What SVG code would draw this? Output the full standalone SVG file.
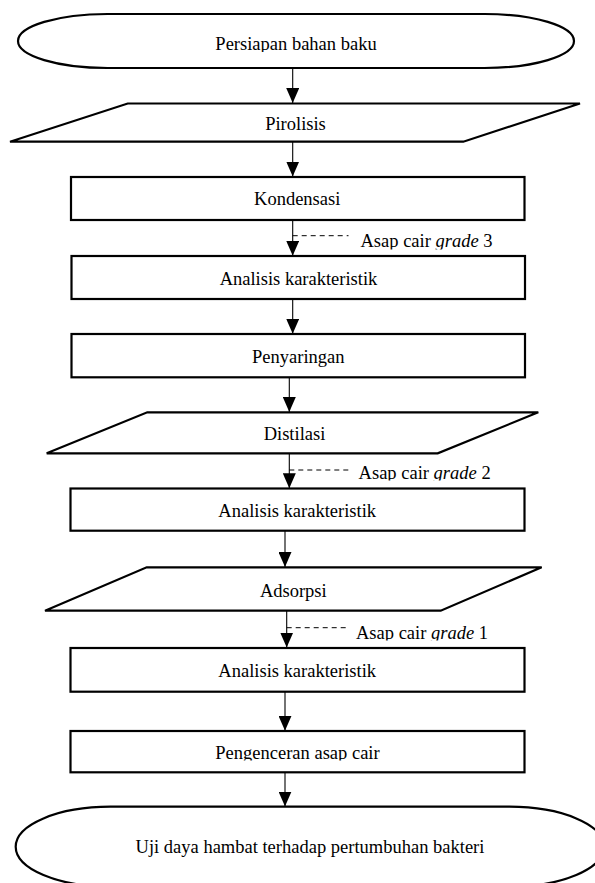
<svg xmlns="http://www.w3.org/2000/svg" width="595" height="883" viewBox="0 0 595 883">
<style>
.shape{fill:#fff;stroke:#000;stroke-width:2.2;stroke-linejoin:miter}
.conn{fill:none;stroke:#000;stroke-width:1.1}
.dash{fill:none;stroke:#000;stroke-width:1;stroke-dasharray:5 4}
text{font-family:"Liberation Serif","Times New Roman",serif;font-size:18.5px;fill:#000}
.c{text-anchor:middle}
</style>
<defs>
<marker id="ah" markerUnits="userSpaceOnUse" markerWidth="15" markerHeight="13" refX="15" refY="6.5" orient="auto">
<path d="M0,0 L15,6.5 L0,13 Z" fill="#000"/>
</marker>
<clipPath id="clip1"><rect x="0" y="20" width="595" height="32"/></clipPath>
<clipPath id="clip2"><rect x="0" y="108" width="595" height="24"/></clipPath>
<clipPath id="clip3"><rect x="300" y="225" width="295" height="24.5"/></clipPath>
<clipPath id="clip4"><rect x="300" y="458" width="295" height="22.5"/></clipPath>
<clipPath id="clip5"><rect x="300" y="615" width="295" height="25.5"/></clipPath>
<clipPath id="clip6"><rect x="0" y="736" width="595" height="24.5"/></clipPath>
</defs>

<g id="connectors">
<line class="conn" x1="292.7" y1="68" x2="292.7" y2="103" marker-end="url(#ah)"/>
<line class="conn" x1="292.7" y1="141.7" x2="292.7" y2="176.5" marker-end="url(#ah)"/>
<line class="conn" x1="292.7" y1="220" x2="292.7" y2="255.8" marker-end="url(#ah)"/>
<line class="dash" x1="292.7" y1="235.7" x2="348.5" y2="235.7"/>
<line class="conn" x1="292.7" y1="299" x2="292.7" y2="333.8" marker-end="url(#ah)"/>
<line class="conn" x1="289.3" y1="377.3" x2="289.3" y2="412" marker-end="url(#ah)"/>
<line class="conn" x1="289.3" y1="453.3" x2="289.3" y2="488.3" marker-end="url(#ah)"/>
<line class="dash" x1="289.3" y1="470" x2="350" y2="470"/>
<line class="conn" x1="285" y1="530.7" x2="285" y2="567" marker-end="url(#ah)"/>
<line class="conn" x1="286.7" y1="610.7" x2="286.7" y2="647.5" marker-end="url(#ah)"/>
<line class="dash" x1="286.7" y1="627.7" x2="349" y2="627.7"/>
<line class="conn" x1="285" y1="691.7" x2="285" y2="730.8" marker-end="url(#ah)"/>
<line class="conn" x1="285" y1="772.3" x2="285" y2="806.5" marker-end="url(#ah)"/>
</g>

<g id="persiapan">
<path class="shape" d="M107.5,14 H484.5 A89.5,27 0 0 1 484.5,68 H107.5 A89.5,27 0 0 1 107.5,14 Z"/>
<text class="c" x="296" y="50" clip-path="url(#clip1)">Persiapan bahan baku</text>
</g>

<g id="pirolisis">
<polygon class="shape" points="127.7,103.5 580,103.5 463.3,141.7 10,141.7"/>
<text class="c" x="295.5" y="130" clip-path="url(#clip2)">Pirolisis</text>
</g>

<g id="kondensasi">
<rect class="shape" x="71" y="177" width="453.5" height="43"/>
<text class="c" x="297.2" y="205">Kondensasi</text>
</g>

<g id="label-grade3">
<text x="360.5" y="247" clip-path="url(#clip3)">Asap cair <tspan font-style="italic">grade</tspan> 3</text>
</g>

<g id="analisis1">
<rect class="shape" x="71.5" y="256" width="453.5" height="43"/>
<text class="c" x="298.5" y="285">Analisis karakteristik</text>
</g>

<g id="penyaringan">
<rect class="shape" x="71.5" y="334" width="453.5" height="43.3"/>
<text class="c" x="298.3" y="362.7">Penyaringan</text>
</g>

<g id="distilasi">
<polygon class="shape" points="147.3,412.3 538.3,412.3 437.7,453.3 46.7,453.3"/>
<text class="c" x="294.5" y="440">Distilasi</text>
</g>

<g id="label-grade2">
<text x="358.6" y="479" clip-path="url(#clip4)">Asap cair <tspan font-style="italic">grade</tspan> 2</text>
</g>

<g id="analisis2">
<rect class="shape" x="70.5" y="488.5" width="454" height="42.2"/>
<text class="c" x="297.2" y="516.7">Analisis karakteristik</text>
</g>

<g id="adsorpsi">
<polygon class="shape" points="146.7,567.3 541.7,567.3 440.7,610.7 45,610.7"/>
<text class="c" x="293.3" y="596.7">Adsorpsi</text>
</g>

<g id="label-grade1">
<text x="356" y="639" clip-path="url(#clip5)">Asap cair <tspan font-style="italic">grade</tspan> 1</text>
</g>

<g id="analisis3">
<rect class="shape" x="70.5" y="648" width="454" height="43.7"/>
<text class="c" x="297.2" y="676.7">Analisis karakteristik</text>
</g>

<g id="pengenceran">
<rect class="shape" x="70.5" y="731" width="454" height="41.3"/>
<text class="c" x="297.5" y="758.5" clip-path="url(#clip6)">Pengenceran asap cair</text>
</g>

<g id="uji">
<path class="shape" d="M110.4,806.7 H509.3 A94.7,40 0 0 1 509.3,886.7 H110.4 A94.7,40 0 0 1 110.4,806.7 Z"/>
<text class="c" x="310" y="853">Uji daya hambat terhadap pertumbuhan bakteri</text>
</g>
</svg>
